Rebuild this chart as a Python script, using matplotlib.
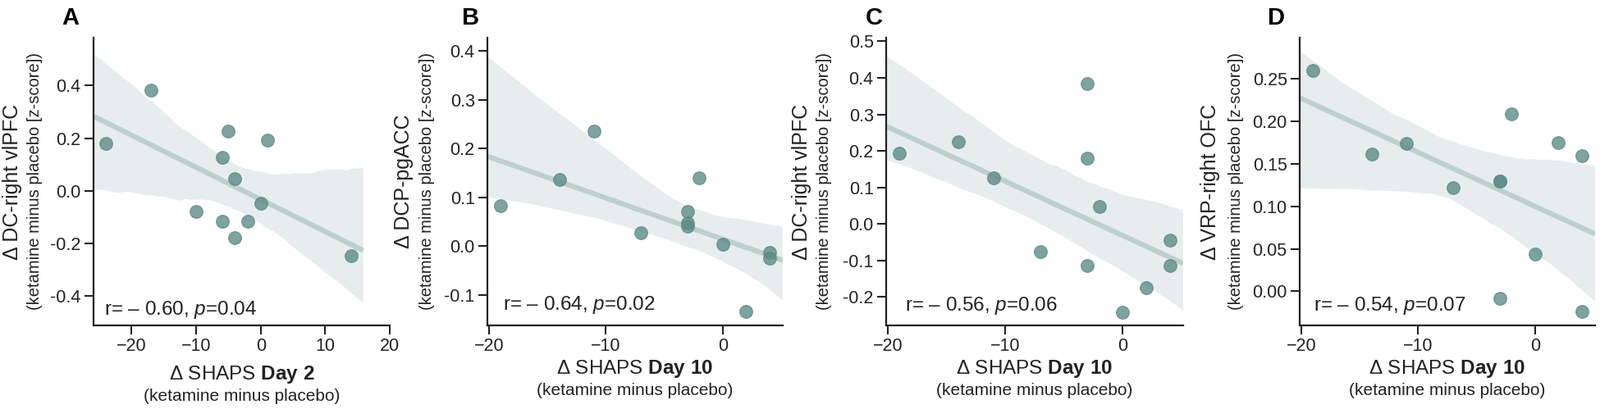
import numpy as np
import matplotlib
matplotlib.use('Agg')
import matplotlib.pyplot as plt
import seaborn as sns

plt.rcParams['font.family'] = ['Liberation Sans', 'DejaVu Sans']
plt.rcParams['mathtext.fontset'] = 'custom'
plt.rcParams['mathtext.rm'] = 'Liberation Sans'
plt.rcParams['mathtext.it'] = 'Liberation Sans:italic'
plt.rcParams['mathtext.bf'] = 'Liberation Sans:bold'

# panel A: change in SHAPS at day 2
shaps_d2 = [-24, -17, -5, 1, -6, -4, 0, -10, -6, -2, -4, 14]
dc_vlpfc_d2 = [0.180, 0.384, 0.226, 0.193, 0.126, 0.047, -0.046, -0.077,
               -0.117, -0.117, -0.177, -0.245]

# panels B-D: change in SHAPS at day 10
shaps_d10 = [-19, -14, -11, -7, -3, -3, -3, -2, 0, 2, 4, 4]
dcp_pgacc = [0.082, 0.136, 0.236, 0.027, 0.070, 0.047, 0.040, 0.139,
             0.003, -0.135, -0.013, -0.026]
dc_vlpfc_d10 = [0.194, 0.226, 0.126, -0.076, 0.384, 0.181, -0.115, 0.048,
                -0.242, -0.175, -0.045, -0.115]
vrp_ofc = [0.259, 0.161, 0.174, 0.122, 0.1295, 0.1295, -0.008, 0.208,
           0.044, 0.175, 0.159, -0.024]

letters = ['A', 'B', 'C', 'D']
ylabels = ['Δ DC-right vlPFC', 'Δ DCP-pgACC', 'Δ DC-right vlPFC', 'Δ VRP-right OFC']
xlabels = ['Δ SHAPS $\\mathbf{Day\\ 2}$'] + ['Δ SHAPS $\\mathbf{Day\\ 10}$'] * 3
stats = ['r= – 0.60, $\\mathit{p}$=0.04', 'r= – 0.64, $\\mathit{p}$=0.02',
         'r= – 0.56, $\\mathit{p}$=0.06', 'r= – 0.54, $\\mathit{p}$=0.07']
xs = [shaps_d2, shaps_d10, shaps_d10, shaps_d10]
ys = [dc_vlpfc_d2, dcp_pgacc, dc_vlpfc_d10, vrp_ofc]
yticks = [[-0.4, -0.2, 0.0, 0.2, 0.4],
          [-0.1, 0.0, 0.1, 0.2, 0.3, 0.4],
          [-0.2, -0.1, 0.0, 0.1, 0.2, 0.3, 0.4, 0.5],
          [0.0, 0.05, 0.10, 0.15, 0.20, 0.25]]
yfmt = ['%.1f', '%.1f', '%.1f', '%.2f']
xticks = [[-20, -10, 0, 10, 20], [-20, -10, 0], [-20, -10, 0], [-20, -10, 0]]
ylims = [(-0.511, 0.582), (-0.163, 0.427), (-0.278, 0.51), (-0.040, 0.298)]
xlims = [(-25.9, 20.0), (-20.15, 5.15), (-20.15, 5.15), (-20.15, 5.15)]

W, H = 1950, 499
# pixel layout
ax_left = [114, 594, 1080, 1584]
ax_w = [361, 360, 362, 360]
ax_top, ax_bot = 46, 397
letter_x = [75, 563, 1055, 1545]
ylab_x = [15, 492, 977, 1475]
ysub_x = [43, 520, 1005, 1506]
xlab_base = [463, 456, 456, 456]
xsub_base = [489, 482, 482, 482]
stat_x = [127, 613, 1103, 1601]
stat_base = [384, 378, 379, 379]

base = '#5e8c89'
dark = '#222222'

fig = plt.figure(figsize=(W / 100, H / 100), dpi=100)
axh = ax_bot - ax_top

for i in range(4):
    rect = [ax_left[i] / W, 1 - ax_bot / H, ax_w[i] / W, axh / H]
    ax = fig.add_axes(rect)
    sns.regplot(x=np.array(xs[i], float), y=np.array(ys[i], float), ax=ax,
                truncate=False, color=base, seed=3 + i,
                scatter_kws=dict(s=125, alpha=0.8, linewidths=1),
                line_kws=dict(lw=4.5, alpha=0.3, solid_capstyle='butt'))
    ax.set_xlim(*xlims[i])
    ax.set_ylim(*ylims[i])
    ax.set_xticks(xticks[i])
    ax.set_yticks(yticks[i])
    ax.yaxis.set_major_formatter(matplotlib.ticker.FormatStrFormatter(yfmt[i]))
    ax.set_xlabel('')
    ax.set_ylabel('')
    for s in ['top', 'right']:
        ax.spines[s].set_visible(False)
    for s in ['left', 'bottom']:
        ax.spines[s].set_linewidth(1.6)
        ax.spines[s].set_color(dark)
    ax.tick_params(direction='out', length=8, width=1.5, colors=dark,
                   labelsize=15.5, pad=3)

    fig.text(stat_x[i] / W, 1 - stat_base[i] / H, stats[i], fontsize=17.5,
             va='baseline', ha='left', color=dark)

    cx = (ax_left[i] + ax_w[i] / 2) / W
    fig.text(cx, 1 - xlab_base[i] / H, xlabels[i], fontsize=17.5,
             ha='center', va='baseline', color=dark)
    fig.text(cx, 1 - xsub_base[i] / H, '(ketamine minus placebo)',
             fontsize=15, ha='center', va='baseline', color=dark)

    cy = 1 - (ax_top + ax_bot) / 2 / H
    fig.text(ylab_x[i] / W, cy, ylabels[i], fontsize=18, rotation=90,
             ha='center', va='center', color=dark)
    fig.text(ysub_x[i] / W, cy, '(ketamine minus placebo [z-score])', fontsize=14.5,
             rotation=90, ha='center', va='center', color=dark)

    fig.text(letter_x[i] / W, 1 - 30 / H, letters[i], fontsize=21,
             fontweight='bold', ha='left', va='baseline', color='black')

fig.savefig('out.png', dpi=100)
